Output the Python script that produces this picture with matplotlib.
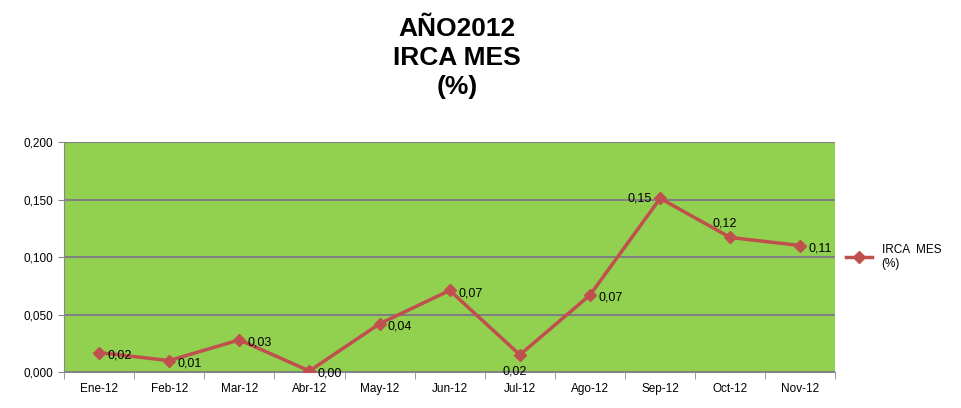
import matplotlib
matplotlib.use("Agg")
import matplotlib.pyplot as plt
import numpy as np

# Data
months = ['Ene-12', 'Feb-12', 'Mar-12', 'Abr-12', 'May-12', 'Jun-12',
          'Jul-12', 'Ago-12', 'Sep-12', 'Oct-12', 'Nov-12']
irca = [0.017, 0.010, 0.028, 0.001, 0.042, 0.071, 0.015, 0.067, 0.151, 0.117, 0.110]
labels = ['0,02', '0,01', '0,03', '0,00', '0,04', '0,07', '0,02', '0,07', '0,15', '0,12', '0,11']
yticks = [0.0, 0.05, 0.10, 0.15, 0.20]
ytick_labels = ['0,000', '0,050', '0,100', '0,150', '0,200']

plt.rcParams['font.family'] = ['Liberation Sans', 'DejaVu Sans']

fig = plt.figure(figsize=(9.62, 4.08), dpi=100)
ax = fig.add_axes([0.0665, 0.088, 0.802, 0.564])

x = np.arange(len(months))
ax.set_facecolor('#92D050')
ax.plot(x, irca, color='#C0504D', linewidth=2.5, marker='D', markersize=6,
        label='IRCA  MES\n(%)', zorder=3)

# data labels (Excel-like placement)
for i, (xi, yi, lab) in enumerate(zip(x, irca, labels)):
    if months[i] == 'Jul-12':
        ax.annotate(lab, (xi, yi), xytext=(-4, -12), textcoords='offset points',
                    ha='center', va='center', fontsize=9)
    elif months[i] == 'Sep-12':
        ax.annotate(lab, (xi, yi), xytext=(-6, 0), textcoords='offset points',
                    ha='right', va='center', fontsize=9)
    elif months[i] == 'Oct-12':
        ax.annotate(lab, (xi, yi), xytext=(-4, 10), textcoords='offset points',
                    ha='center', va='center', fontsize=9)
    else:
        ax.annotate(lab, (xi, yi), xytext=(6, -2), textcoords='offset points',
                    ha='left', va='center', fontsize=9)

ax.set_xlim(-0.5, len(months) - 0.5)
ax.set_ylim(0, 0.2)
ax.set_yticks(yticks)
ax.set_yticklabels(ytick_labels, fontsize=8.5)
ax.set_xticks(x)
ax.set_xticklabels(months, fontsize=8.5)
ax.set_xticks(np.arange(-0.5, len(months)), minor=True)
ax.tick_params(axis='x', which='major', length=0, pad=8)
ax.tick_params(axis='x', which='minor', length=5, color='#888888')
ax.tick_params(axis='y', length=4, color='#888888')
ax.yaxis.grid(True, color='#808080', linewidth=1.5)
ax.set_axisbelow(True)
for side in ['top', 'right']:
    ax.spines[side].set_visible(False)
ax.spines['left'].set_color('#888888')
ax.spines['bottom'].set_color('#888888')

fig.text(0.475, 0.858, 'AÑO2012\nIRCA MES\n(%)', ha='center', va='center',
         fontsize=19, fontweight='bold', linespacing=1.25)

ax.legend(loc='center left', bbox_to_anchor=(1.0, 0.5), frameon=False,
          fontsize=8.5, handlelength=2.2)

fig.savefig('out.png', dpi=100)
